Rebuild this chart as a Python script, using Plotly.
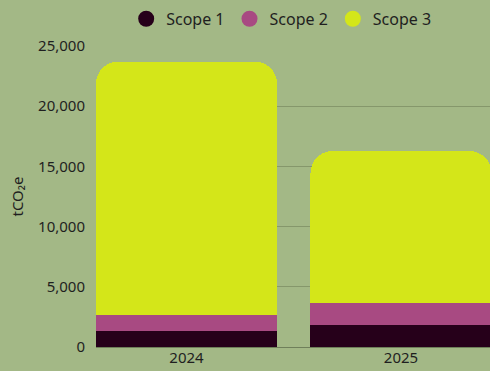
import plotly.graph_objects as go

years = ["2024", "2025"]
scope1 = [1350, 1850]
scope2 = [1300, 1780]
scope3 = [21050, 12650]

series_names = ["Scope 1", "Scope 2", "Scope 3"]
series_values = [scope1, scope2, scope3]
series_colors = ["#26001a", "#a84a82", "#d4e619"]

BG = "#a3b886"
TEXT = "#1f1f1f"
FONT = "Noto Sans"

fig = go.Figure()

for name, vals, col in zip(series_names, series_values, series_colors):
    fig.add_trace(go.Bar(
        x=years, y=vals, name=name, marker_color=col,
        marker_line_width=0, showlegend=False,
        hovertemplate="%{x}: %{y:,}<extra>" + name + "</extra>",
    ))

# circular legend keys
for name, col in zip(series_names, series_colors):
    fig.add_trace(go.Scatter(
        x=[None], y=[None], mode="markers", name=name,
        marker=dict(symbol="circle", size=16, color=col),
        showlegend=True,
    ))

fig.update_layout(
    width=490, height=371,
    barmode="stack",
    bargap=0.156,
    barcornerradius=22,
    paper_bgcolor=BG, plot_bgcolor=BG,
    margin=dict(l=96, r=0, t=46, b=24),
    font=dict(family=FONT, size=15, color=TEXT),
    legend=dict(
        orientation="h", x=0.47, xanchor="center", y=0.995, yanchor="top",
        yref="container", font=dict(size=16, color=TEXT),
        bgcolor="rgba(0,0,0,0)", traceorder="normal",
    ),
    xaxis=dict(
        type="category", range=[-0.422, 1.415],
        showgrid=False, showline=False, ticks="",
        tickfont=dict(size=15, color=TEXT),
    ),
    yaxis=dict(
        range=[0, 25000], tickvals=[0, 5000, 10000, 15000, 20000, 25000],
        tickformat=",", showgrid=True, gridcolor="#85976b", gridwidth=1,
        zeroline=True, zerolinecolor="#6f7f5a", zerolinewidth=1,
        showline=False, ticks="", ticklabelstandoff=10,
        tickfont=dict(size=15, color=TEXT),
        title=dict(text="tCO₂e", font=dict(size=15, color=TEXT), standoff=10),
    ),
)

fig.write_html("out.html")
